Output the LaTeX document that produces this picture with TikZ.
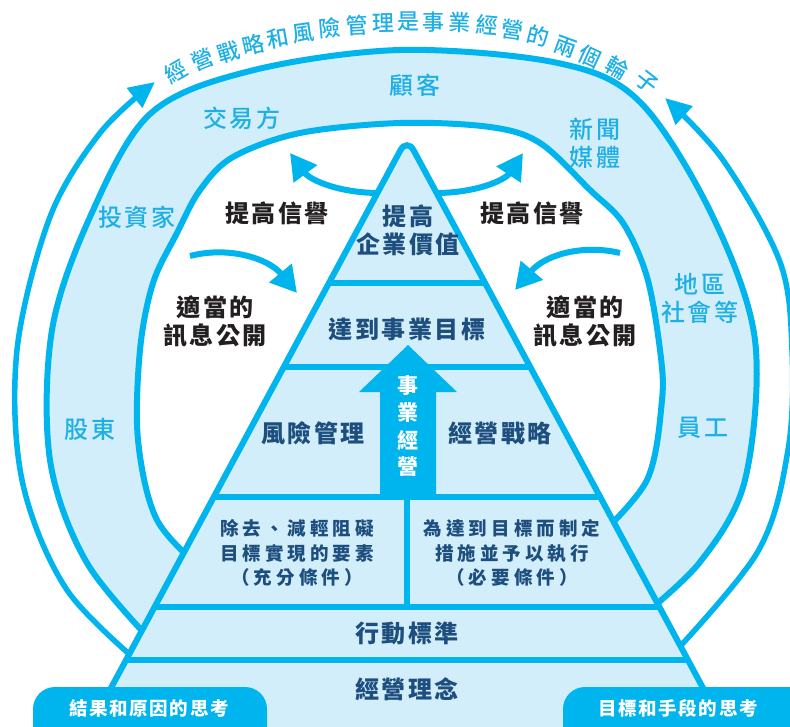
\documentclass[tikz,border=0pt]{standalone}
\usepackage{fontspec}
\setmainfont{Noto Sans CJK TC}
\newfontfamily\medcjk{Noto Sans CJK TC Medium}
\usetikzlibrary{arrows.meta,calc}
\definecolor{cyanL}{HTML}{00B4EE}
\definecolor{bandF}{HTML}{D2EEFA}
\definecolor{darkT}{HTML}{1D4E7E}
\definecolor{cyanT}{HTML}{1EAFE6}
\definecolor{blackT}{HTML}{231F20}
\tikzset{
  ln/.style={draw=cyanL, line width=6pt},
  thinln/.style={draw=cyanL, line width=5.5pt},
  arr/.style={draw=cyanL, line width=6pt, -{Triangle[length=26pt,width=28pt]}},
  bigtxt/.style={inner sep=0pt, align=center, font={\fontsize{24}{28}\selectfont\addfontfeatures{LetterSpace=11}}},
  stk/.style={bigtxt, text=cyanT, font={\medcjk\fontsize{24}{28}\selectfont\addfontfeatures{LetterSpace=11}}},
  lay/.style={bigtxt, text=darkT, font={\bfseries\fontsize{24}{28}\selectfont\addfontfeatures{LetterSpace=11}}},
  blk/.style={bigtxt, text=blackT, font={\bfseries\fontsize{24}{28}\selectfont\addfontfeatures{LetterSpace=11}}},
  sml/.style={inner sep=0pt, align=center, text=darkT, font={\bfseries\fontsize{18.5}{24.5}\selectfont\addfontfeatures{LetterSpace=22}}},
  pilltxt/.style={inner sep=0pt, text=white, font={\bfseries\fontsize{18.5}{22}\selectfont\addfontfeatures{LetterSpace=9}}},
  arrtxt/.style={inner sep=0pt, text=white, font={\bfseries\fontsize{21}{24}\selectfont}},
  ttl/.style={inner sep=0pt, text=cyanT, font={\medcjk\fontsize{22}{24}\selectfont}},
  pill/.style={fill=cyanL, rounded corners=22pt}
}
\begin{document}
\begin{tikzpicture}[x=1pt,y=-1pt]
\useasboundingbox (0,0) rectangle (790,727);
\clip (0,0) rectangle (790,727);

% band fill
\fill[bandF] plot[smooth,tension=0.55] coordinates {(160,650) (87,563) (50,460) (52,330) (90,217) (150,114) (250,71) (400,50) (558,63) (640,102) (712,215) (755,340) (745,480) (700,562) (635,622)}
 -- plot[smooth,tension=0.55] coordinates {(595,540) (647,480) (662,400) (660,350) (647,277) (623,223) (590,190) (540,143) (490,127) (400,123) (300,133) (233,157) (200,190) (177,233) (153,283) (140,350) (138,440) (157,520) (205,572)} -- cycle;
% band strokes
\draw[ln] plot[smooth,tension=0.55] coordinates {(160,650) (87,563) (50,460) (52,330) (90,217) (150,114) (250,71) (400,50) (558,63) (640,102) (712,215) (755,340) (745,480) (700,562) (635,622)};
\draw[ln] plot[smooth,tension=0.55] coordinates {(595,540) (647,480) (662,400) (660,350) (647,277) (623,223) (590,190) (540,143) (490,127) (400,123) (300,133) (233,157) (200,190) (177,233) (153,283) (140,350) (138,440) (157,520) (205,572)};

% outermost arrow arcs
\draw[thinln, -{Triangle[length=26pt,width=24pt]}] plot[smooth,tension=0.55] coordinates {(150,672) (67,590) (22,480) (17,350) (50,217) (100,133) (155,82)};
\draw[thinln, -{Triangle[length=26pt,width=24pt]}] plot[smooth,tension=0.55] coordinates {(660,668) (757,553) (788,450) (792,350) (780,262) (723,160) (665,98)};

% small curved arrows
\coordinate (la0) at (385,193);
\coordinate (la1) at (290,153);
\coordinate (ra0) at (430,193);
\coordinate (ra1) at (523,153);
\draw[arr] (la0) .. controls (340,194) and (310,180) .. (la1);
\draw[arr] (ra0) .. controls (475,194) and (505,180) .. (ra1);
\coordinate (lm0) at (190,256);
\coordinate (lm1) at (297,293);
\coordinate (rm0) at (620,253);
\coordinate (rm1) at (515,290);
\draw[arr] (lm0) .. controls (228,246) and (268,258) .. (lm1);
\draw[arr] (rm0) .. controls (582,244) and (545,255) .. (rm1);

% pyramid
\coordinate (A) at (407,138);
\coordinate (BL) at (83,740);
\coordinate (BR) at (731,740);
\fill[bandF, rounded corners=14pt] (BL) -- (A) -- (BR) -- cycle;
\coordinate (L1) at ($(A)!0.24086!(BL)$); \coordinate (R1) at ($(A)!0.24086!(BR)$);
\coordinate (L2) at ($(A)!0.38040!(BL)$); \coordinate (R2) at ($(A)!0.38040!(BR)$);
\coordinate (L3) at ($(A)!0.59635!(BL)$); \coordinate (R3) at ($(A)!0.59635!(BR)$);
\coordinate (L4) at ($(A)!0.77907!(BL)$); \coordinate (R4) at ($(A)!0.77907!(BR)$);
\coordinate (L5) at ($(A)!0.86711!(BL)$); \coordinate (R5) at ($(A)!0.86711!(BR)$);
\draw[ln] (L1) -- (R1);
\draw[ln] (L2) -- (R2);
\draw[ln] (L3) -- (R3);
\draw[ln] (L4) -- (R4);
\draw[ln] (L5) -- (R5);
\coordinate (D0) at (407,497);
\coordinate (D1) at (407,607);
\draw[ln] (D0) -- (D1);
\draw[ln, rounded corners=14pt] (BL) -- (A) -- (BR);

% big arrow
\fill[cyanL] (380,499) -- (380,392) -- (359,392) -- (408,345) -- (457,392) -- (436,392) -- (436,499) -- cycle;
\node[arrtxt] (s1) at (408,386) {事};
\node[arrtxt] (s2) at (408,413) {業};
\node[arrtxt] (s3) at (408,440) {經};
\node[arrtxt] (s4) at (408,467) {營};

% title along arc
\foreach \c/\tx/\ty/\tr [count=\i] in {經/176/72/30, 營/203/60/22, 戰/229/52/17, 略/253/45/13, 和/278/38/10, 風/303/33/8, 險/330/28/5, 管/357/25/3, 理/383/23/1, 是/408/22/0, 事/433/22/0, 業/460/23/-2, 經/487/25/-5, 營/513/30/-8, 的/538/36/-14, 兩/565/47/-20, 個/590/57/-25, 輪/617/68/-30, 子/647/82/-38} {
  \node[ttl, rotate=\tr] (t\i) at (\tx,\ty) {\c};
}

% stakeholder texts
\node[stk] (guke) at (415,85) {顧客};
\node[stk] (jiaoyi) at (242,118) {交易方};
\node[stk] (xinwen) at (595,143) {新聞\\媒體};
\node[stk] (touzi) at (137,217) {投資家};
\node[stk] (diqu) at (700,298) {地區\\社會等};
\node[stk] (gudong) at (90,429) {股東};
\node[stk] (yuangong) at (703,428) {員工};

% black texts
\node[blk] (xy1) at (277,213) {提高信譽};
\node[blk] (xy2) at (532,213) {提高信譽};
\node[blk] (xx1) at (215,321) {適當的\\訊息公開};
\node[blk] (xx2) at (585,321) {適當的\\訊息公開};

% layer texts
\node[lay] (jz) at (408,230) {提高\\企業價值};
\node[lay] (mb) at (407,329) {達到事業目標};
\node[lay] (fx) at (313,433) {風險管理};
\node[lay] (zl) at (500,433) {經營戰略};
\node[sml] (cq) at (297,553) {除去、減輕阻礙\\目標實現的要素\\（充分條件）};
\node[sml] (wd) at (512,553) {為達到目標而制定\\措施並予以執行\\（必要條件）};
\node[lay] (xd) at (407,633) {行動標準};
\node[lay] (ln) at (407,689) {經營理念};

% pills
\fill[pill] (33,687) rectangle (267,780);
\fill[pill] (563,687) rectangle (840,780);
\node[pilltxt] (p1) at (149,708) {結果和原因的思考};
\node[pilltxt] (p2) at (678,708) {目標和手段的思考};
\end{tikzpicture}
\end{document}
